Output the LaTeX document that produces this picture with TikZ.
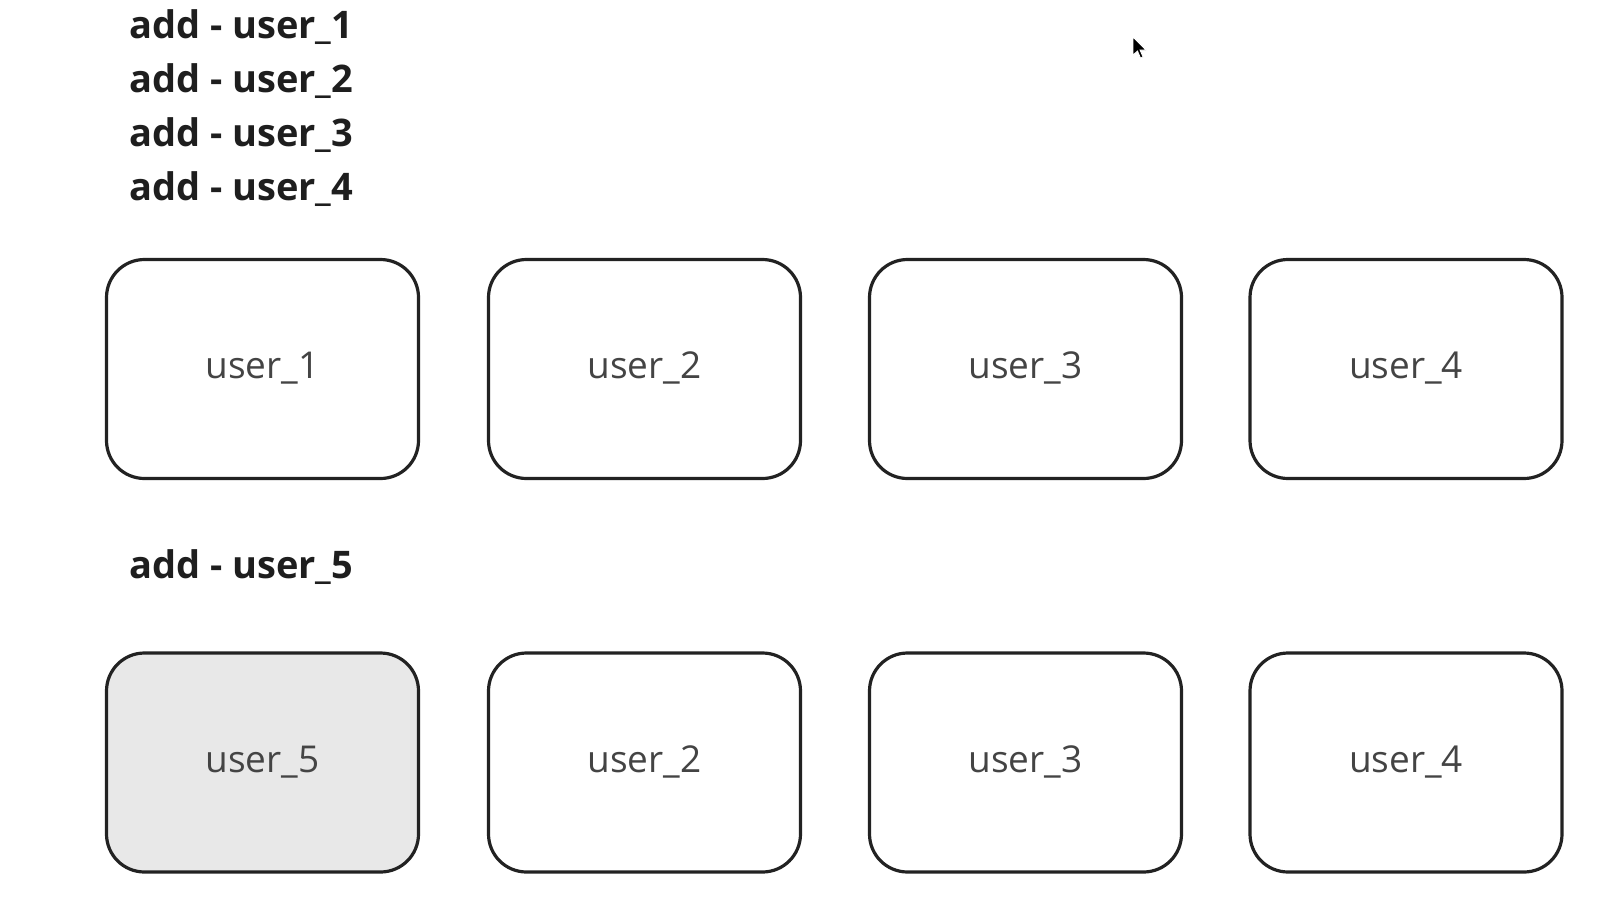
\documentclass[tikz,border=0pt]{standalone}
\usepackage{fontspec}
\setmainfont{Open Sans}
\definecolor{edge}{HTML}{222222}
\definecolor{headtxt}{HTML}{1E1E1E}
\definecolor{boxtxt}{HTML}{444444}
\definecolor{newfill}{HTML}{E8E8E8}
\begin{document}
\begin{tikzpicture}[x=1pt,y=-1pt,
  heading/.style={anchor=base west,inner sep=0pt,font=\fontsize{38}{38}\selectfont\bfseries,text=headtxt},
  userbox/.style={draw=edge,line width=3.2pt,rounded corners=38pt,minimum width=312pt,minimum height=219pt,
    inner sep=0pt,text height=19pt,text depth=0pt,font=\fontsize{37}{37}\selectfont,text=boxtxt,fill=white},
  newbox/.style={userbox,fill=newfill}]
\useasboundingbox[fill=white] (0,0) rectangle (1612,900);
% headings
\node[heading] (h1) at (129,38) {add - user\_1};
\node[heading] (h2) at (129,92) {add - user\_2};
\node[heading] (h3) at (129,146) {add - user\_3};
\node[heading] (h4) at (129,200) {add - user\_4};
\node[heading] (h5) at (129,578) {add - user\_5};
% row 1
\node[userbox] (a1) at (262.5,369) {user\_1};
\node[userbox] (a2) at (644.5,369) {user\_2};
\node[userbox] (a3) at (1025.5,369) {user\_3};
\node[userbox] (a4) at (1406,369) {user\_4};
% row 2
\node[newbox] (b1) at (262.5,762.5) {user\_5};
\node[userbox] (b2) at (644.5,762.5) {user\_2};
\node[userbox] (b3) at (1025.5,762.5) {user\_3};
\node[userbox] (b4) at (1406,762.5) {user\_4};
% mouse cursor
\coordinate (cur) at (1133,37);
\fill[black,draw=white,line width=0.8pt,shift={(cur)}] (0,0) -- (0,18) -- (4.5,14) -- (7.5,21) -- (10,20) -- (7,13) -- (13,13) -- cycle;
\end{tikzpicture}
\end{document}
